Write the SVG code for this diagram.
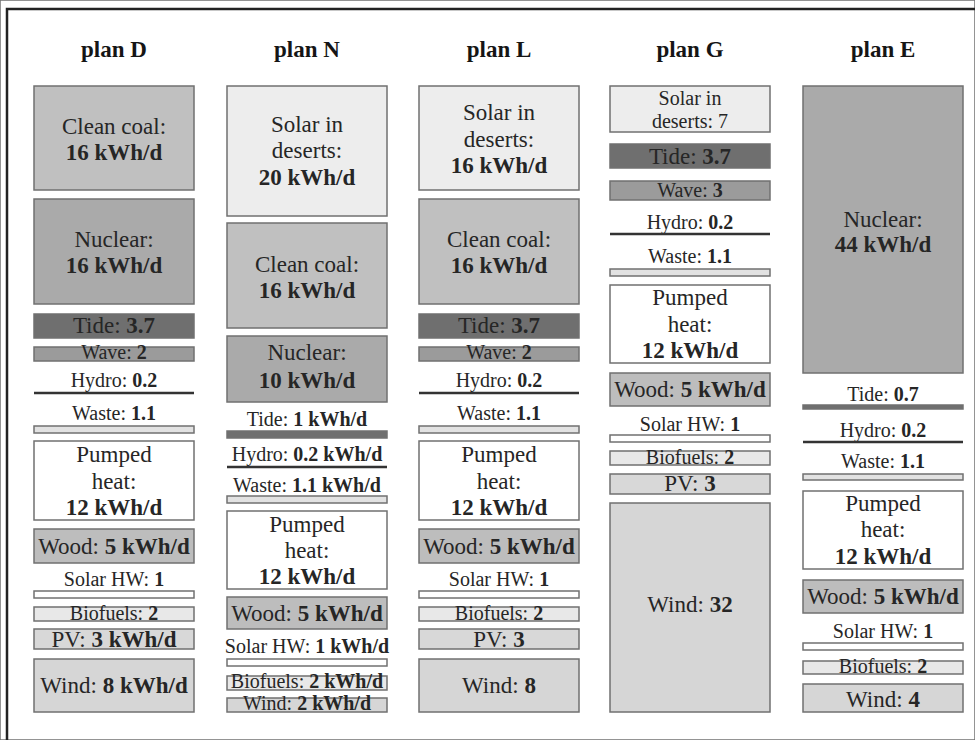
<svg xmlns="http://www.w3.org/2000/svg" width="975" height="740" viewBox="0 0 975 740">
<style>
text{font-family:"Liberation Serif","DejaVu Serif","Noto Serif",serif;fill:#262626;text-anchor:middle}
.h{font-size:23px;font-weight:bold;fill:#151515}
.t{font-size:23px}
.s{font-size:20px}
.b{font-weight:bold}
rect{stroke:#707070;stroke-width:1.5}
.coal{fill:#c0c0c0}
.nuc{fill:#aaaaaa}
.sol{fill:#ededed}
.tide{fill:#6f6f6f}
.wave{fill:#9b9b9b}
.waste{fill:#e2e2e2}
.pump{fill:#ffffff}
.wood{fill:#bdbdbd}
.shw{fill:#ffffff}
.bio{fill:#e8e8e8}
.pv{fill:#d8d8d8}
.wind{fill:#d6d6d6}
.hyd{stroke:#333333;stroke-width:2.5}
</style>
<rect x="0" y="0" width="975" height="740" fill="#ffffff" stroke="none"/>
<path d="M7,740 V9 H975" fill="none" stroke="#222222" stroke-width="2.5"/>
<g id="connectors"/>

<!-- plan D -->
<g id="planD">
<text class="h" x="114" y="57">plan D</text>
<g id="D-coal"><rect class="coal" x="34" y="86" width="160" height="104"/><text class="t" x="114" y="134">Clean coal:</text><text class="t b" x="114" y="160">16 kWh/d</text></g>
<g id="D-nuclear"><rect class="nuc" x="34" y="199" width="160" height="105"/><text class="t" x="114" y="247">Nuclear:</text><text class="t b" x="114" y="273">16 kWh/d</text></g>
<g id="D-tide"><rect class="tide" x="34" y="314" width="160" height="24"/><text class="t" x="114" y="333">Tide: <tspan class="b">3.7</tspan></text></g>
<g id="D-wave"><rect class="wave" x="34" y="347" width="160" height="14"/><text class="s" x="114" y="359">Wave: <tspan class="b">2</tspan></text></g>
<g id="D-hydro"><text class="s" x="114" y="387">Hydro: <tspan class="b">0.2</tspan></text><line class="hyd" x1="34" y1="393" x2="194" y2="393"/></g>
<g id="D-waste"><text class="s" x="114" y="420">Waste: <tspan class="b">1.1</tspan></text><rect class="waste" x="34" y="426" width="160" height="7"/></g>
<g id="D-pump"><rect class="pump" x="34" y="441" width="160" height="79"/><text class="t" x="114" y="462">Pumped</text><text class="t" x="114" y="489">heat:</text><text class="t b" x="114" y="515">12 kWh/d</text></g>
<g id="D-wood"><rect class="wood" x="34" y="529" width="160" height="34"/><text class="t" x="114" y="554">Wood: <tspan class="b">5 kWh/d</tspan></text></g>
<g id="D-solarhw"><text class="s" x="114" y="586">Solar HW: <tspan class="b">1</tspan></text><rect class="shw" x="34" y="591" width="160" height="7"/></g>
<g id="D-bio"><rect class="bio" x="34" y="607" width="160" height="14"/><text class="s" x="114" y="620">Biofuels: <tspan class="b">2</tspan></text></g>
<g id="D-pv"><rect class="pv" x="34" y="629" width="160" height="20"/><text class="t" x="114" y="647">PV: <tspan class="b">3 kWh/d</tspan></text></g>
<g id="D-wind"><rect class="wind" x="34" y="659" width="160" height="53"/><text class="t" x="114" y="693">Wind: <tspan class="b">8 kWh/d</tspan></text></g>
</g>

<!-- plan N -->
<g id="planN">
<text class="h" x="307" y="57">plan N</text>
<g id="N-solar"><rect class="sol" x="227" y="86" width="160" height="130"/><text class="t" x="307" y="132">Solar in</text><text class="t" x="307" y="158">deserts:</text><text class="t b" x="307" y="185">20 kWh/d</text></g>
<g id="N-coal"><rect class="coal" x="227" y="223" width="160" height="105"/><text class="t" x="307" y="272">Clean coal:</text><text class="t b" x="307" y="298">16 kWh/d</text></g>
<g id="N-nuclear"><rect class="nuc" x="227" y="336" width="160" height="66"/><text class="t" x="307" y="360">Nuclear:</text><text class="t b" x="307" y="388">10 kWh/d</text></g>
<g id="N-tide"><text class="s" x="307" y="426">Tide: <tspan class="b">1 kWh/d</tspan></text><rect class="tide" x="227" y="431" width="160" height="7"/></g>
<g id="N-hydro"><text class="s" x="307" y="461">Hydro: <tspan class="b">0.2 kWh/d</tspan></text><line class="hyd" x1="227" y1="467" x2="387" y2="467"/></g>
<g id="N-waste"><text class="s" x="307" y="492">Waste: <tspan class="b">1.1 kWh/d</tspan></text><rect class="waste" x="227" y="496" width="160" height="7"/></g>
<g id="N-pump"><rect class="pump" x="227" y="511" width="160" height="78"/><text class="t" x="307" y="532">Pumped</text><text class="t" x="307" y="558">heat:</text><text class="t b" x="307" y="584">12 kWh/d</text></g>
<g id="N-wood"><rect class="wood" x="227" y="597" width="160" height="32"/><text class="t" x="307" y="621">Wood: <tspan class="b">5 kWh/d</tspan></text></g>
<g id="N-solarhw"><text class="s" x="307" y="653">Solar HW: <tspan class="b">1 kWh/d</tspan></text><rect class="shw" x="227" y="659" width="160" height="7"/></g>
<g id="N-bio"><rect class="bio" x="227" y="676" width="160" height="14"/><text class="s" x="307" y="688" font-size="22">Biofuels: <tspan class="b">2 kWh/d</tspan></text></g>
<g id="N-wind"><rect class="wind" x="227" y="698" width="160" height="14"/><text class="s" x="307" y="710">Wind: <tspan class="b">2 kWh/d</tspan></text></g>
</g>

<!-- plan L -->
<g id="planL">
<text class="h" x="499" y="57">plan L</text>
<g id="L-solar"><rect class="sol" x="419" y="86" width="160" height="104"/><text class="t" x="499" y="120">Solar in</text><text class="t" x="499" y="147">deserts:</text><text class="t b" x="499" y="173">16 kWh/d</text></g>
<g id="L-coal"><rect class="coal" x="419" y="199" width="160" height="105"/><text class="t" x="499" y="247">Clean coal:</text><text class="t b" x="499" y="273">16 kWh/d</text></g>
<g id="L-tide"><rect class="tide" x="419" y="314" width="160" height="24"/><text class="t" x="499" y="333">Tide: <tspan class="b">3.7</tspan></text></g>
<g id="L-wave"><rect class="wave" x="419" y="347" width="160" height="14"/><text class="s" x="499" y="359">Wave: <tspan class="b">2</tspan></text></g>
<g id="L-hydro"><text class="s" x="499" y="387">Hydro: <tspan class="b">0.2</tspan></text><line class="hyd" x1="419" y1="393" x2="579" y2="393"/></g>
<g id="L-waste"><text class="s" x="499" y="420">Waste: <tspan class="b">1.1</tspan></text><rect class="waste" x="419" y="426" width="160" height="7"/></g>
<g id="L-pump"><rect class="pump" x="419" y="441" width="160" height="79"/><text class="t" x="499" y="462">Pumped</text><text class="t" x="499" y="489">heat:</text><text class="t b" x="499" y="515">12 kWh/d</text></g>
<g id="L-wood"><rect class="wood" x="419" y="529" width="160" height="34"/><text class="t" x="499" y="554">Wood: <tspan class="b">5 kWh/d</tspan></text></g>
<g id="L-solarhw"><text class="s" x="499" y="586">Solar HW: <tspan class="b">1</tspan></text><rect class="shw" x="419" y="591" width="160" height="7"/></g>
<g id="L-bio"><rect class="bio" x="419" y="607" width="160" height="14"/><text class="s" x="499" y="620">Biofuels: <tspan class="b">2</tspan></text></g>
<g id="L-pv"><rect class="pv" x="419" y="629" width="160" height="20"/><text class="t" x="499" y="647">PV: <tspan class="b">3</tspan></text></g>
<g id="L-wind"><rect class="wind" x="419" y="659" width="160" height="53"/><text class="t" x="499" y="693">Wind: <tspan class="b">8</tspan></text></g>
</g>

<!-- plan G -->
<g id="planG">
<text class="h" x="690" y="57">plan G</text>
<g id="G-solar"><rect class="sol" x="610" y="86" width="160" height="46"/><text class="s" x="690" y="105">Solar in</text><text class="s" x="690" y="128">deserts: 7</text></g>
<g id="G-tide"><rect class="tide" x="610" y="144" width="160" height="24"/><text class="t" x="690" y="164">Tide: <tspan class="b">3.7</tspan></text></g>
<g id="G-wave"><rect class="wave" x="610" y="181" width="160" height="19"/><text class="s" x="690" y="197">Wave: <tspan class="b">3</tspan></text></g>
<g id="G-hydro"><text class="s" x="690" y="229">Hydro: <tspan class="b">0.2</tspan></text><line class="hyd" x1="610" y1="234" x2="770" y2="234"/></g>
<g id="G-waste"><text class="s" x="690" y="263">Waste: <tspan class="b">1.1</tspan></text><rect class="waste" x="610" y="269" width="160" height="7"/></g>
<g id="G-pump"><rect class="pump" x="610" y="285" width="160" height="78"/><text class="t" x="690" y="305">Pumped</text><text class="t" x="690" y="332">heat:</text><text class="t b" x="690" y="358">12 kWh/d</text></g>
<g id="G-wood"><rect class="wood" x="610" y="373" width="160" height="33"/><text class="t" x="690" y="397">Wood: <tspan class="b">5 kWh/d</tspan></text></g>
<g id="G-solarhw"><text class="s" x="690" y="431">Solar HW: <tspan class="b">1</tspan></text><rect class="shw" x="610" y="435" width="160" height="7"/></g>
<g id="G-bio"><rect class="bio" x="610" y="451" width="160" height="14"/><text class="s" x="690" y="464">Biofuels: <tspan class="b">2</tspan></text></g>
<g id="G-pv"><rect class="pv" x="610" y="474" width="160" height="20"/><text class="t" x="690" y="491">PV: <tspan class="b">3</tspan></text></g>
<g id="G-wind"><rect class="wind" x="610" y="503" width="160" height="209"/><text class="t" x="690" y="612">Wind: <tspan class="b">32</tspan></text></g>
</g>

<!-- plan E -->
<g id="planE">
<text class="h" x="883" y="57">plan E</text>
<g id="E-nuclear"><rect class="nuc" x="803" y="86" width="160" height="287"/><text class="t" x="883" y="227">Nuclear:</text><text class="t b" x="883" y="252">44 kWh/d</text></g>
<g id="E-tide"><text class="s" x="883" y="401">Tide: <tspan class="b">0.7</tspan></text><rect class="tide" x="803" y="405" width="160" height="4"/></g>
<g id="E-hydro"><text class="s" x="883" y="437">Hydro: <tspan class="b">0.2</tspan></text><line class="hyd" x1="803" y1="442" x2="963" y2="442"/></g>
<g id="E-waste"><text class="s" x="883" y="468">Waste: <tspan class="b">1.1</tspan></text><rect class="waste" x="803" y="474" width="160" height="6"/></g>
<g id="E-pump"><rect class="pump" x="803" y="491" width="160" height="78"/><text class="t" x="883" y="511">Pumped</text><text class="t" x="883" y="537">heat:</text><text class="t b" x="883" y="564">12 kWh/d</text></g>
<g id="E-wood"><rect class="wood" x="803" y="580" width="160" height="33"/><text class="t" x="883" y="604">Wood: <tspan class="b">5 kWh/d</tspan></text></g>
<g id="E-solarhw"><text class="s" x="883" y="638">Solar HW: <tspan class="b">1</tspan></text><rect class="shw" x="803" y="643" width="160" height="7"/></g>
<g id="E-bio"><rect class="bio" x="803" y="661" width="160" height="13"/><text class="s" x="883" y="673">Biofuels: <tspan class="b">2</tspan></text></g>
<g id="E-wind"><rect class="wind" x="803" y="684" width="160" height="28"/><text class="t" x="883" y="707">Wind: <tspan class="b">4</tspan></text></g>
</g>
</svg>
